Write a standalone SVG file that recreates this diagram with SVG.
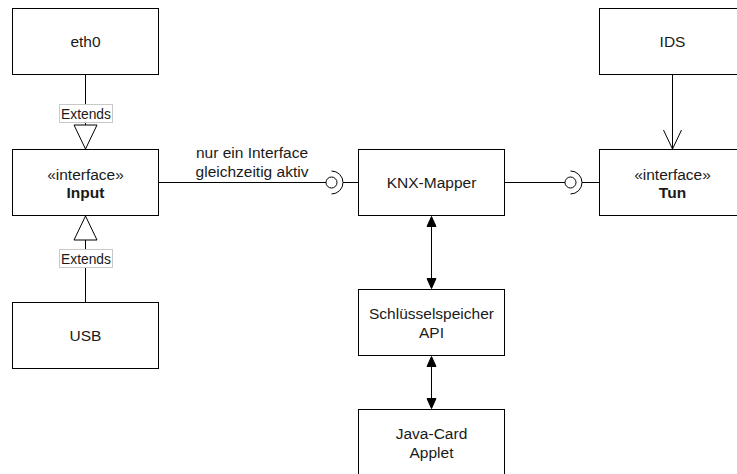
<svg xmlns="http://www.w3.org/2000/svg" width="737" height="474" viewBox="0 0 737 474">
<style>
.box{fill:#fff;stroke:#000;stroke-width:1}
.t{font-family:"Liberation Sans",Arial,sans-serif;font-size:15.5px;fill:#1a1a1a;text-anchor:middle}
.b{font-weight:bold}
.ln{fill:none;stroke:#000;stroke-width:1}
.lbl{font-family:"Liberation Sans",Arial,sans-serif;font-size:13.8px;fill:#1a1a1a;text-anchor:middle}
.lblbox{fill:#fff;stroke:#c8c8c8;stroke-width:1}
</style>
<rect width="737" height="474" fill="#fff"/>
<g id="connectors">
  <!-- eth0 extends Input -->
  <line class="ln" x1="85.5" y1="74.5" x2="85.5" y2="125"/>
  <polygon class="ln" fill="#fff" points="74,125 97,125 85.5,149"/>
  <rect class="lblbox" x="59.5" y="104.5" width="53" height="18"/>
  <text class="lbl" x="86" y="118.5">Extends</text>
  <!-- USB extends Input -->
  <line class="ln" x1="85.5" y1="302.5" x2="85.5" y2="240"/>
  <polygon class="ln" fill="#fff" points="74,240 97,240 85.5,216"/>
  <rect class="lblbox" x="59.5" y="249.5" width="53" height="18"/>
  <text class="lbl" x="86" y="263.5">Extends</text>
  <!-- Input to KNX-Mapper (required interface) -->
  <line class="ln" x1="158.5" y1="182.5" x2="326" y2="182.5"/>
  <circle class="ln" cx="331.5" cy="182.5" r="5.5"/>
  <path class="ln" d="M331.5 171 A11.5 11.5 0 0 1 331.5 194"/>
  <line class="ln" x1="343" y1="182.5" x2="358.5" y2="182.5"/>
  <text class="t" x="252" y="158">nur ein Interface</text>
  <text class="t" x="252" y="176.5">gleichzeitig aktiv</text>
  <!-- KNX-Mapper to Tun -->
  <line class="ln" x1="504.5" y1="182.5" x2="565" y2="182.5"/>
  <circle class="ln" cx="570.5" cy="182.5" r="5.5"/>
  <path class="ln" d="M570.5 171 A11.5 11.5 0 0 1 570.5 194"/>
  <line class="ln" x1="582" y1="182.5" x2="599.5" y2="182.5"/>
  <!-- IDS to Tun -->
  <line class="ln" x1="672.5" y1="74.5" x2="672.5" y2="148.5"/>
  <polyline class="ln" points="663.5,130 672.5,149 681.5,130"/>
  <!-- KNX-Mapper <-> Schluesselspeicher -->
  <line class="ln" x1="431.5" y1="225" x2="431.5" y2="280"/>
  <polygon fill="#000" stroke="#000" points="431.5,216.5 436,226.5 427,226.5"/>
  <polygon fill="#000" stroke="#000" points="431.5,288.5 436,278.5 427,278.5"/>
  <!-- Schluesselspeicher <-> Java-Card -->
  <line class="ln" x1="431.5" y1="365" x2="431.5" y2="400"/>
  <polygon fill="#000" stroke="#000" points="431.5,356.5 436,366.5 427,366.5"/>
  <polygon fill="#000" stroke="#000" points="431.5,408.5 436,398.5 427,398.5"/>
</g>
<g id="eth0">
  <rect class="box" x="12.5" y="8.5" width="146" height="66"/>
  <text class="t" x="85.5" y="47">eth0</text>
</g>
<g id="input">
  <rect class="box" x="12.5" y="149.5" width="146" height="66"/>
  <text class="t" x="85.5" y="179.5">«interface»</text>
  <text class="t b" x="85.5" y="198">Input</text>
</g>
<g id="usb">
  <rect class="box" x="12.5" y="302.5" width="146" height="66"/>
  <text class="t" x="85.5" y="341">USB</text>
</g>
<g id="knx-mapper">
  <rect class="box" x="358.5" y="149.5" width="146" height="66"/>
  <text class="t" x="431.5" y="188">KNX-Mapper</text>
</g>
<g id="schluesselspeicher">
  <rect class="box" x="358.5" y="289.5" width="146" height="66"/>
  <text class="t" x="431.5" y="319">Schlüsselspeicher</text>
  <text class="t" x="431.5" y="337.5">API</text>
</g>
<g id="javacard">
  <rect class="box" x="358.5" y="409.5" width="146" height="66"/>
  <text class="t" x="431.5" y="439">Java-Card</text>
  <text class="t" x="431.5" y="457.5">Applet</text>
</g>
<g id="ids">
  <rect class="box" x="599.5" y="8.5" width="146" height="66"/>
  <text class="t" x="672.5" y="47">IDS</text>
</g>
<g id="tun">
  <rect class="box" x="599.5" y="149.5" width="146" height="66"/>
  <text class="t" x="672.5" y="179.5">«interface»</text>
  <text class="t b" x="672.5" y="198">Tun</text>
</g>
</svg>
